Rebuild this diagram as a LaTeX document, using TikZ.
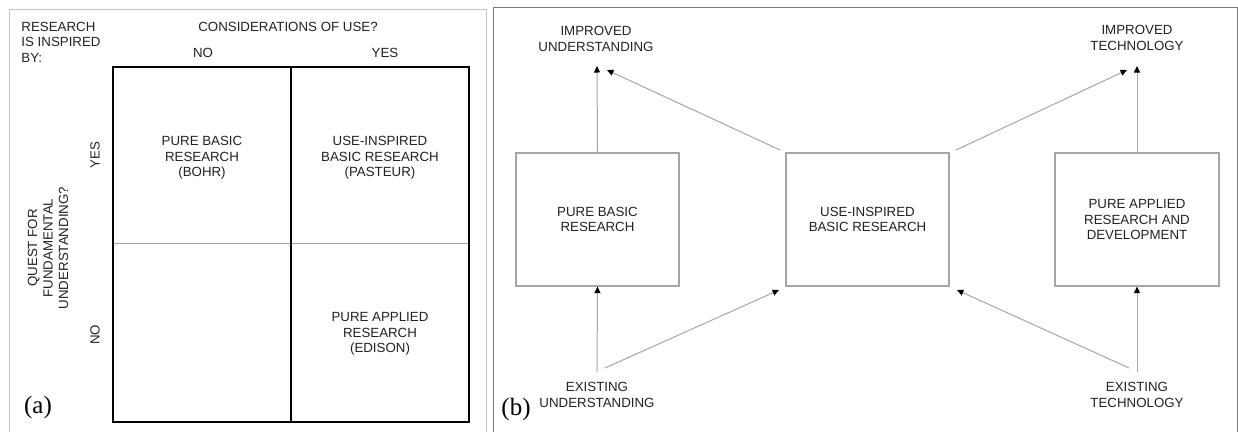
\documentclass[tikz,border=0pt]{standalone}
\usepackage{fontspec}
\setmainfont{Liberation Sans}
\newfontfamily\tagfont{Liberation Serif}
\usetikzlibrary{arrows.meta}
\definecolor{ink}{HTML}{222222}
\definecolor{boxline}{HTML}{A6A6A6}
\definecolor{frameA}{HTML}{C4C4C4}
\definecolor{frameB}{HTML}{7A7A7A}
\begin{document}
\begin{tikzpicture}[x=1pt,y=-1pt,
  txt/.style={font=\fontsize{13.3}{15.5}\selectfont, text=ink, align=center, inner sep=0pt},
  tag/.style={font=\tagfont\fontsize{25}{25}\selectfont, text=black, inner sep=0pt},
  cellrule/.style={line width=1.9pt, black},
  midrule/.style={line width=0.8pt, boxline},
  stagebox/.style={draw=boxline, line width=1.2pt, minimum width=163pt, minimum height=133pt,
                   inner sep=0pt, align=center, font=\fontsize{13.3}{15.5}\selectfont, text=ink},
  flow/.style={draw=boxline, line width=1pt,
               arrows={-{Triangle[length=6.5pt,width=6pt,color=black]}}}]
\useasboundingbox (0,0) rectangle (1238,432);
\fill[white] (0,0) rectangle (1238,432);

% ---------- panel (a): the quadrant table ----------
\draw[frameA, line width=1pt] (9,432) -- (9,9) -- (486,9) -- (486,432);
\draw[midrule] (113,243) -- (469,243);
\draw[line width=1.4pt, black] (291,67) -- (291,422);
\draw[cellrule] (113,67) rectangle (469,422);

\node[txt, align=left] (inspired) at (61,42) {RESEARCH\\IS INSPIRED\\BY:};
\node[txt] (use) at (288,27) {CONSIDERATIONS OF USE?};
\node[txt] (colno) at (203,53) {NO};
\node[txt] (colyes) at (385,53) {YES};
\node[txt, rotate=90] (quest) at (48,248) {QUEST FOR\\FUNDAMENTAL\\UNDERSTANDING?};
\node[txt, rotate=90] (rowyes) at (95,155) {YES};
\node[txt, rotate=90] (rowno) at (95,335) {NO};

\node[txt] (bohr) at (202,158) {PURE BASIC\\RESEARCH\\(BOHR)};
\node[txt] (pasteur) at (380,158) {USE-INSPIRED\\BASIC RESEARCH\\(PASTEUR)};
\node[txt] (edison) at (380,334) {PURE APPLIED\\RESEARCH\\(EDISON)};
\node[tag] (taga) at (38,407) {(a)};

% ---------- panel (b): the linear and quadrant flows ----------
\draw[frameB, line width=1pt] (493,432) -- (493,7) -- (1237,7) -- (1237,432);

\node[stagebox] (basic) at (597.5,219.5) {PURE BASIC\\RESEARCH};
\node[stagebox] (useins) at (867.5,219.5) {USE-INSPIRED\\BASIC RESEARCH};
\node[stagebox, minimum width=164pt] (applied) at (1137,219.5) {PURE APPLIED\\RESEARCH AND\\DEVELOPMENT};

\node[txt] (impu) at (596,39) {IMPROVED\\UNDERSTANDING};
\node[txt] (impt) at (1137,38) {IMPROVED\\TECHNOLOGY};
\node[txt] (exu) at (597,395) {EXISTING\\UNDERSTANDING};
\node[txt] (ext) at (1137,395) {EXISTING\\TECHNOLOGY};
\node[tag] (tagb) at (516,409) {(b)};

% arrow ends just below / above the outcome labels
\coordinate (impuA) at (597,66);
\coordinate (impuB) at (607,70);
\coordinate (imptA) at (1137,66);
\coordinate (imptB) at (1127,70);
\coordinate (exuA) at (597,372);
\coordinate (exuB) at (605,368);
\coordinate (extA) at (1137,372);
\coordinate (extB) at (1129,368);
\coordinate (useinsNW) at (780,150);
\coordinate (useinsNE) at (956,150);
\coordinate (useinsSW) at (779,290);
\coordinate (useinsSE) at (957,290);

\draw[flow] (basic.north) -- (impuA);
\draw[flow] (useinsNW) -- (impuB);
\draw[flow] (useinsNE) -- (imptB);
\draw[flow] (applied.north) -- (imptA);
\draw[flow] (exuA) -- (basic.south);
\draw[flow] (exuB) -- (useinsSW);
\draw[flow] (extB) -- (useinsSE);
\draw[flow] (extA) -- (applied.south);
\end{tikzpicture}
\end{document}
